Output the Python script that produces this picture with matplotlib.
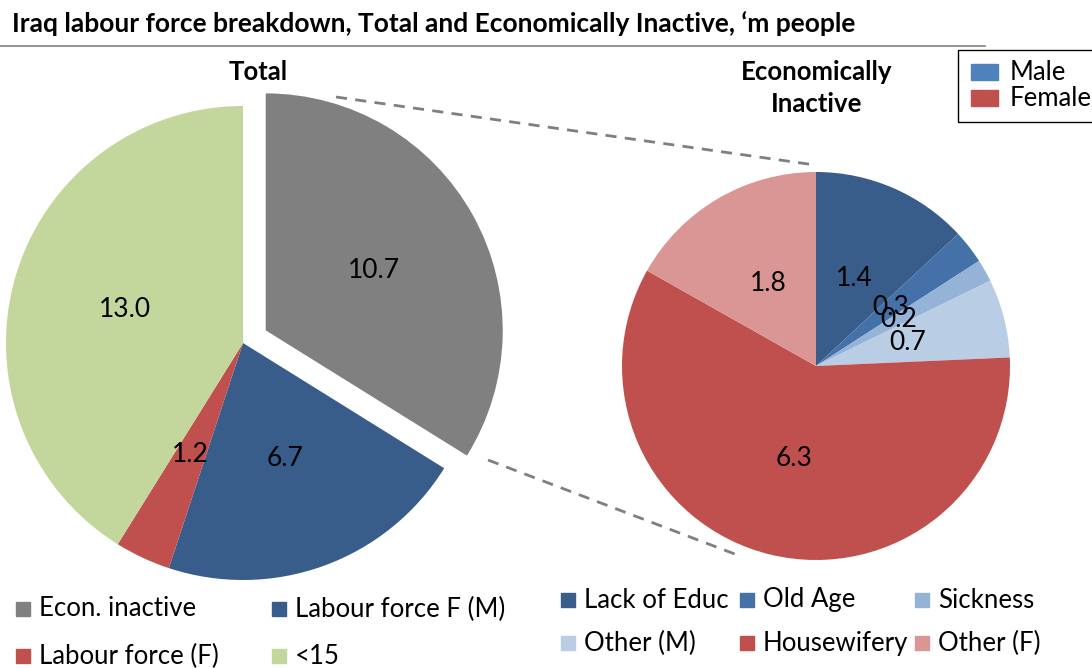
import matplotlib.pyplot as plt
from matplotlib.patches import Rectangle

plt.rcParams['font.family'] = ['Lato', 'DejaVu Sans']

# Values in millions of people
total_labels = ["Econ. inactive", "Labour force F (M)", "Labour force (F)", "<15"]
total_values = [10.7, 6.7, 1.2, 13.0]
total_colors = ["#808080", "#385D8A", "#C0504D", "#C3D69B"]

inactive_labels = ["Lack of Educ", "Old Age", "Sickness", "Other (M)", "Housewifery", "Other (F)"]
inactive_values = [1.4, 0.3, 0.2, 0.7, 6.3, 1.8]
inactive_colors = ["#385D8A", "#4471A8", "#95B3D7", "#B9CDE5", "#C0504D", "#D99694"]

W, H = 1092, 668
fig = plt.figure(figsize=(W / 100, H / 100), dpi=100)
ax = fig.add_axes([0, 0, 1, 1])


def Y(y):
    # pixel rows count from the top
    return H - y


# left pie, inactive slice pulled out (explode is in data units here)
ax.pie(total_values, colors=total_colors, startangle=90, counterclock=False,
       center=(243, Y(343)), radius=237, explode=[26, 0, 0, 0],
       autopct=lambda p: f"{p * sum(total_values) / 100:.1f}", pctdistance=0.52,
       textprops=dict(fontsize=19, color="black"), frame=True)

# right pie
ax.pie(inactive_values, colors=inactive_colors, startangle=90, counterclock=False,
       center=(816, Y(366)), radius=194,
       autopct=lambda p: f"{p * sum(inactive_values) / 100:.1f}", pctdistance=0.49,
       textprops=dict(fontsize=19, color="black"), frame=True)
ax.set_xlim(0, W)
ax.set_ylim(0, H)
ax.set_aspect('equal')
ax.axis('off')

# dashed connectors
ax.plot([336, 815], [Y(97), Y(165)], ls=(0, (4, 3)), color="#7F7F7F", lw=2)
ax.plot([488, 740], [Y(460), Y(556)], ls=(0, (4, 3)), color="#7F7F7F", lw=2)

# title and rule
ax.text(12, Y(24), "Iraq labour force breakdown, Total and Economically Inactive, \u2018m people",
        fontsize=19, fontweight="bold", va="center", ha="left")
ax.plot([0, 985], [Y(46), Y(46)], color="#808080", lw=1.2)

ax.text(258, Y(72), "Total", fontsize=18.5, fontweight="bold", ha="center", va="center")
ax.text(817, Y(88), "Economically\nInactive", fontsize=18.5, fontweight="bold",
        ha="center", va="center", linespacing=1.35)

# gender key
ax.add_patch(Rectangle((958, Y(122)), 150, 72, fill=False, edgecolor="black", lw=1, clip_on=False))
for i, (name, col) in enumerate([("Male", "#4F81BD"), ("Female", "#C0504D")]):
    y = 72 + i * 26
    ax.add_patch(Rectangle((971, Y(y) - 8), 27, 16, color=col))
    ax.text(1010, Y(y), name, fontsize=18.5, va="center", ha="left")


def key(x, y, col, name):
    ax.add_patch(Rectangle((x, Y(y) - 7), 14, 14, color=col))
    ax.text(x + 23, Y(y), name, fontsize=18.5, va="center", ha="left")


# legend under the left pie
left_pos = [(16, 609), (272, 609), (16, 656), (272, 656)]
for (x, y), col, name in zip(left_pos, total_colors, total_labels):
    key(x, y, col, name)

# legend under the right pie
right_pos = [(561, 600), (740, 600), (915, 600), (561, 643), (740, 643), (915, 643)]
for (x, y), col, name in zip(right_pos, inactive_colors, inactive_labels):
    key(x, y, col, name)

fig.savefig("out.png", dpi=100)
